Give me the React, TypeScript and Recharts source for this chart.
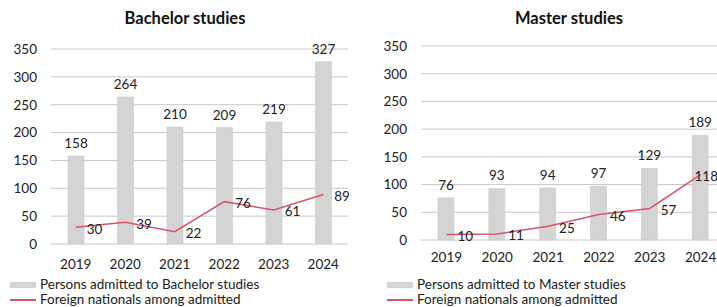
import { ComposedChart, Bar, Line, XAxis, YAxis, CartesianGrid, LabelList } from 'recharts'

const years = ['2019', '2020', '2021', '2022', '2023', '2024']
const bachelorAdmitted = [158, 264, 210, 209, 219, 327]
const bachelorForeign = [30, 39, 22, 76, 61, 89]
const masterAdmitted = [76, 93, 94, 97, 129, 189]
const masterForeign = [10, 11, 25, 46, 57, 118]
const yTicks = [0, 50, 100, 150, 200, 250, 300, 350]

const FONT = 'Lato, "Noto Sans", sans-serif'
const TEXT = '#222'
const BAR = '#d4d4d4'
const LINE = '#d9536a'

const bachelorData = years.map((year, i) => ({ year, admitted: bachelorAdmitted[i], foreign: bachelorForeign[i] }))
const masterData = years.map((year, i) => ({ year, admitted: masterAdmitted[i], foreign: masterForeign[i] }))

// labels sit right of the point; pushed back in if they'd run off the edge
const lineLabel = (maxX: number) => (props: any) => {
  const { x, y, value } = props
  const w = String(value).length * 7.5
  const lx = Math.min(x + 11, maxX - w)
  return (
    <text x={lx} y={y + 3} fill={TEXT} fontSize={13.5} fontFamily={FONT} dominantBaseline="middle">
      {value}
    </text>
  )
}

interface PanelProps {
  title: string
  legend: string
  data: { year: string; admitted: number; foreign: number }[]
  left: number
  width: number
  margin: { top: number; right: number; left: number; bottom: number }
  tickGap: number
  titleX: number
  legendX: number
  legendY: number
  maxLabelX: number
}

function Panel({ title, legend, data, left, width, margin, tickGap, titleX, legendX, legendY, maxLabelX }: PanelProps) {
  return (
    <div style={{ position: 'absolute', left, top: 0, width, height: 307 }}>
      <div
        style={{
          position: 'absolute',
          left: titleX - left - 100,
          width: 200,
          top: 8,
          textAlign: 'center',
          fontFamily: FONT,
          fontWeight: 700,
          fontSize: 16.5,
          color: '#111',
        }}
      >
        {title}
      </div>
      <ComposedChart width={width} height={307} data={data} margin={margin}>
        <CartesianGrid vertical={false} stroke="#c8c8c8" />
        <XAxis
          dataKey="year"
          axisLine={false}
          tickLine={false}
          tickMargin={tickGap}
          tick={{ fill: TEXT, fontSize: 13.5, fontFamily: FONT }}
        />
        <YAxis
          domain={[0, 350]}
          ticks={yTicks}
          axisLine={false}
          tickLine={false}
          width={margin.left > 60 ? 50 : 45}
          tickMargin={margin.left > 60 ? 10 : 8}
          tick={{ fill: TEXT, fontSize: 13.5, fontFamily: FONT }}
        />
        <Bar dataKey="admitted" fill={BAR} stroke="#c4c4c4" strokeWidth={0.5} barSize={16} isAnimationActive={false}>
          <LabelList dataKey="admitted" position="top" offset={8} fill={TEXT} fontSize={13.5} fontFamily={FONT} />
        </Bar>
        <Line
          dataKey="foreign"
          type="linear"
          stroke={LINE}
          strokeWidth={1.5}
          dot={false}
          isAnimationActive={false}
        >
          <LabelList dataKey="foreign" content={lineLabel(maxLabelX)} />
        </Line>
      </ComposedChart>
      <div style={{ position: 'absolute', left: legendX - left, top: legendY, fontFamily: FONT, fontSize: 13.5, color: TEXT, lineHeight: '15px' }}>
        <div style={{ display: 'flex', alignItems: 'center', height: 15 }}>
          <span style={{ display: 'inline-block', width: 26, height: 6, background: BAR, marginRight: 4 }} />
          {legend}
        </div>
        <div style={{ display: 'flex', alignItems: 'center', height: 15 }}>
          <span style={{ display: 'inline-block', width: 26, height: 2, background: LINE, marginRight: 4 }} />
          Foreign nationals among admitted
        </div>
      </div>
    </div>
  )
}

export default function App() {
  return (
    <div style={{ position: 'absolute', left: 0, top: 0, width: 717, height: 307, overflow: 'hidden', background: '#fff' }}>
      <Panel
        title="Bachelor studies"
        legend="Persons admitted to Bachelor studies"
        data={bachelorData}
        left={0}
        width={360}
        margin={{ top: 49, right: 12, left: 6, bottom: 33 }}
        tickGap={9}
        titleX={185}
        legendX={10}
        legendY={277}
        maxLabelX={352}
      />
      <Panel
        title="Master studies"
        legend="Persons admitted to Master studies"
        data={masterData}
        left={360}
        width={370}
        margin={{ top: 46, right: 4, left: 16, bottom: 37 }}
        tickGap={6}
        titleX={569}
        legendX={387}
        legendY={277}
        maxLabelX={357}
      />
    </div>
  )
}
